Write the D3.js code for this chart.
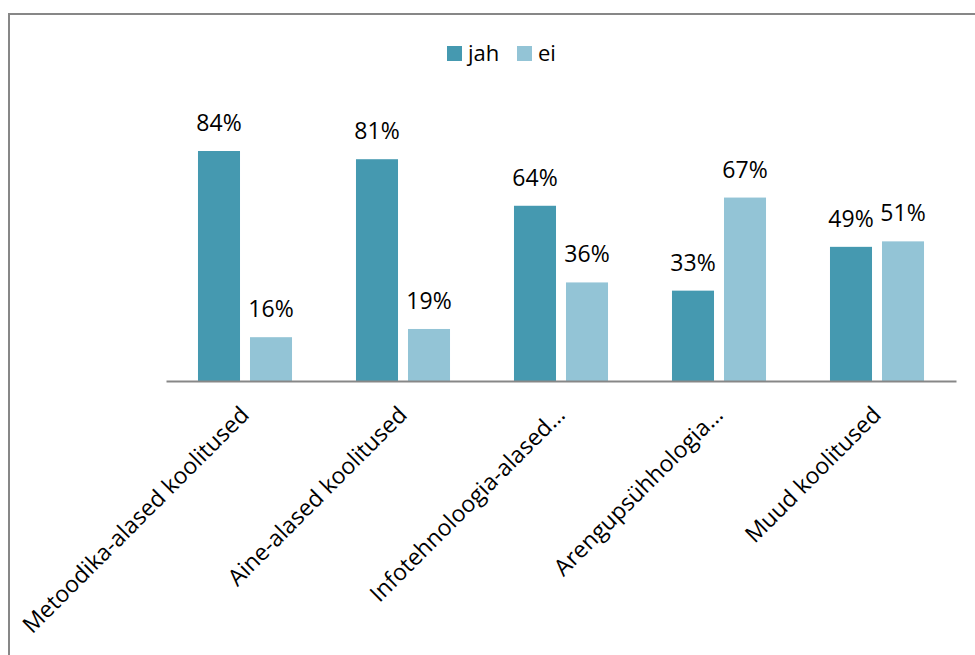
<!DOCTYPE html>
<html><head><meta charset="utf-8">
<script src="https://cdn.jsdelivr.net/npm/d3@7/dist/d3.min.js"></script>
<style>
html,body{margin:0;padding:0;background:#fff;}
svg{display:block;font-family:"Open Sans",sans-serif;}
</style></head>
<body>
<svg id="chart" width="975" height="655"></svg>
<script>
const categories = ["Metoodika-alased koolitused","Aine-alased koolitused","Infotehnoloogia-alased…","Arengupsühhologia…","Muud koolitused"];
const seriesNames = ["jah","ei"];
const jahValues = [84, 81, 64, 33, 49];
const eiValues = [16, 19, 36, 67, 51];
const colors = ["#4599B0","#93C4D6"];

const svg = d3.select("#chart");
// outer frame
svg.append("rect").attr("x",9).attr("y",14).attr("width",1000).attr("height",700)
  .attr("fill","none").attr("stroke","#878787").attr("stroke-width",2);

const baseY = 381;
const x0 = d3.scaleBand().domain(categories).range([166,956]).paddingInner(0).paddingOuter(0);
const x1 = d3.scaleBand().domain(seriesNames).range([0,x0.bandwidth()]).paddingInner(0.192).paddingOuter(0.615);
const y = d3.scaleLinear().domain([0,100]).range([baseY, baseY-273.8]);

const data = categories.map((c,i)=>({cat:c, vals:[{s:"jah",v:jahValues[i]},{s:"ei",v:eiValues[i]}]}));

const g = svg.append("g");
const groups = g.selectAll("g.grp").data(data).join("g").attr("class","grp")
  .attr("transform",d=>`translate(${x0(d.cat)},0)`);
groups.selectAll("rect").data(d=>d.vals).join("rect")
  .attr("x",d=>x1(d.s)).attr("width",x1.bandwidth())
  .attr("y",d=>y(d.v)).attr("height",d=>baseY-y(d.v))
  .attr("fill",(d,i)=>colors[i]);
groups.selectAll("text.lbl").data(d=>d.vals).join("text").attr("class","lbl")
  .attr("x",d=>x1(d.s)+x1.bandwidth()/2).attr("y",d=>y(d.v)-20)
  .attr("text-anchor","middle").attr("font-size",23).attr("fill","#000")
  .text(d=>d.v+"%");

// axis
const axis = d3.axisBottom(x0).tickSize(0).tickFormat("");
const ax = svg.append("g").attr("transform",`translate(0,${baseY})`).call(axis);
ax.select(".domain").attr("stroke","#878787").attr("stroke-width",2);

// category labels
svg.append("g").selectAll("text").data(categories).join("text")
  .attr("transform",d=>`translate(${x0(d)+x0.bandwidth()/2-7},${404}) rotate(-45)`)
  .attr("text-anchor","end").attr("dy","0.76em").attr("font-size",23).attr("fill","#000")
  .text(d=>d);

// legend
const legend = svg.append("g");
const legendX = [447,517];
seriesNames.forEach((s,i)=>{
  legend.append("rect").attr("x",legendX[i]).attr("y",46).attr("width",15).attr("height",15).attr("fill",colors[i]);
  legend.append("text").attr("x",legendX[i]+21).attr("y",61).attr("font-size",22).attr("fill","#000").text(s);
});
</script>
</body></html>
